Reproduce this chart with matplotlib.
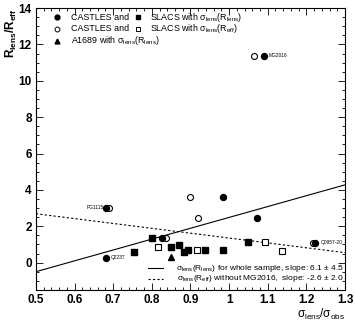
import numpy as np
import matplotlib
matplotlib.use('Agg')
import matplotlib.pyplot as plt
from matplotlib.ticker import MultipleLocator

plt.rcParams['font.family'] = ['Liberation Sans', 'DejaVu Sans']
plt.rcParams['mathtext.fontset'] = 'custom'
plt.rcParams['mathtext.rm'] = 'Liberation Sans'
plt.rcParams['mathtext.it'] = 'Liberation Sans'
plt.rcParams['mathtext.bf'] = 'Liberation Sans:bold'

# CASTLES, sigma_lens(R_lens)
castles_fill_x = [1.091, 0.681, 0.681, 0.984, 1.073, 1.223, 0.826]
castles_fill_y = [11.37, 3.02, 0.27, 3.63, 2.47, 1.10, 1.37]
# CASTLES, sigma_lens(R_eff)
castles_open_x = [1.065, 0.689, 0.899, 0.920, 1.218, 0.837]
castles_open_y = [11.37, 3.02, 3.63, 2.47, 1.10, 1.37]
# SLACS, sigma_lens(R_lens)
slacs_fill_x = [0.801, 0.754, 0.850, 0.870, 0.883, 0.894, 0.938, 0.984, 1.049]
slacs_fill_y = [1.37, 0.58, 0.88, 0.99, 0.60, 0.71, 0.71, 0.71, 1.15]
# SLACS, sigma_lens(R_eff)
slacs_open_x = [0.816, 0.917, 1.093, 1.137]
slacs_open_y = [0.88, 0.71, 1.15, 0.66]
# A1689
a1689_x = [0.850]
a1689_y = [0.33]

names = ['MG2016', 'PG1115', 'Q2237', 'Q0957-20']
names_x = [1.095, 0.675, 0.686, 1.228]
names_y = [11.37, 3.02, 0.27, 1.10]

# fits
fit_x = np.array([0.5, 1.3])
fit_all = [-0.5, 4.28]
fit_noMG = [2.69, 0.55]

fig = plt.figure(figsize=(3.55, 3.25), dpi=100)
ax = fig.add_axes([0.101, 0.108, 0.871, 0.867])

ms = 4.3
ax.plot(fit_x, fit_all, color='black', lw=0.8)
ax.plot(fit_x, fit_noMG, color='black', lw=0.8, ls=(0, (2, 2)))
ax.plot(castles_open_x, castles_open_y, 'o', mfc='white', mec='black', ms=ms, mew=0.8)
ax.plot(slacs_open_x, slacs_open_y, 's', mfc='white', mec='black', ms=ms, mew=0.8)
ax.plot(castles_fill_x, castles_fill_y, 'o', color='black', ms=ms)
ax.plot(slacs_fill_x, slacs_fill_y, 's', color='black', ms=ms)
ax.plot(a1689_x, a1689_y, '^', color='black', ms=ms)

for i in range(len(names)):
    ha = 'right' if names[i] == 'PG1115' else 'left'
    ax.text(names_x[i] + (0.008 if ha == 'left' else 0), names_y[i], names[i],
            fontsize=3.5, ha=ha, va='center')

ax.set_xlim(0.5, 1.3)
ax.set_ylim(-1.5, 14)
ax.xaxis.set_major_locator(MultipleLocator(0.1))
ax.xaxis.set_minor_locator(MultipleLocator(0.02))
ax.yaxis.set_major_locator(MultipleLocator(2))
ax.yaxis.set_minor_locator(MultipleLocator(0.5))
ax.set_xticks(np.arange(0.5, 1.31, 0.1))
ax.set_xticklabels(['0.5', '0.6', '0.7', '0.8', '0.9', '1', '1.1', '1.2', '1.3'])
ax.tick_params(which='both', direction='in', top=True, right=True, width=0.6)
ax.tick_params(which='major', length=5, labelsize=8.5, pad=3)
ax.tick_params(which='minor', length=2.5)
for lab in ax.get_xticklabels() + ax.get_yticklabels():
    lab.set_fontweight('bold')
for s in ax.spines.values():
    s.set_linewidth(0.8)

# top legend
fs = 6.4
mk = 3.5
row_y = [13.5, 12.86, 12.2]
ax.plot([0.554], [row_y[0]], 'o', color='black', ms=mk)
ax.plot([0.554], [row_y[1]], 'o', mfc='white', mec='black', ms=mk, mew=0.7)
ax.plot([0.554], [row_y[2]], '^', color='black', ms=mk)
ax.plot([0.764], [row_y[0]], 's', color='black', ms=mk)
ax.plot([0.764], [row_y[1]], 's', mfc='white', mec='black', ms=mk, mew=0.7)
ax.text(0.59, row_y[0], 'CASTLES and', fontsize=fs, va='center')
ax.text(0.59, row_y[1], 'CASTLES and', fontsize=fs, va='center')
ax.text(0.795, row_y[0], r'SLACS with $\sigma_{\rm lens}(R_{\rm lens})$', fontsize=fs, va='center')
ax.text(0.795, row_y[1], r'SLACS with $\sigma_{\rm lens}(R_{\rm eff})$', fontsize=fs, va='center')
ax.text(0.59, row_y[2], r'A1689 with $\sigma_{\rm lens}(R_{\rm lens})$', fontsize=fs, va='center')

# bottom legend
ax.plot([0.79, 0.83], [-0.3, -0.3], color='black', lw=0.8)
ax.plot([0.79, 0.83], [-0.9, -0.9], color='black', lw=0.8, ls=(0, (2, 2)))
ax.text(1.297, -0.3, r'$\sigma_{\rm lens}(R_{\rm lens})$ for whole sample, slope: 6.1 $\pm$ 4.5',
        fontsize=6.0, ha='right', va='center')
ax.text(1.297, -0.9, r'$\sigma_{\rm lens}(R_{\rm eff})$ without MG2016,  slope: -2.6 $\pm$ 2.0',
        fontsize=6.0, ha='right', va='center')

fig.text(0.972, 0.008, r'$\sigma_{\rm lens}/\sigma_{\rm obs}$', fontsize=8.5, ha='right', va='bottom')
fig.text(0.012, 0.975, r'$\mathbf{R}_{\mathbf{lens}}\mathbf{/R}_{\mathbf{eff}}$', fontsize=8.5,
         rotation=90, ha='left', va='top')

fig.savefig('out.png', dpi=100)
